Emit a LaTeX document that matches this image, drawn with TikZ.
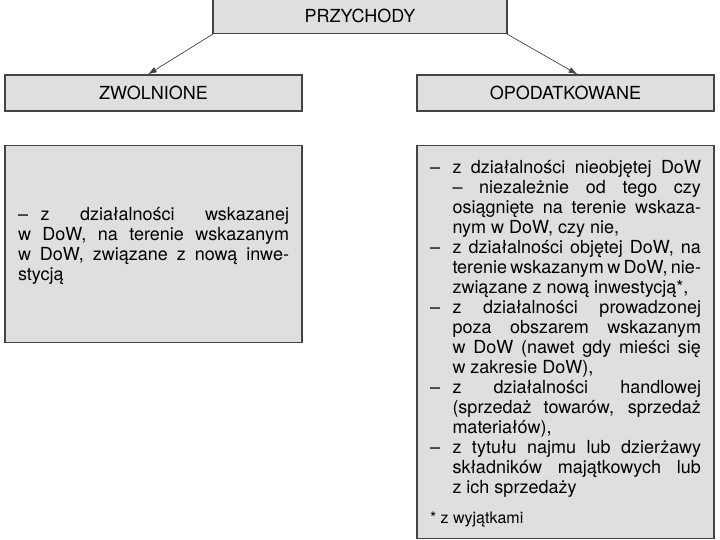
\documentclass[tikz,border=0pt]{standalone}
\usepackage{fontspec}
\setmainfont{TeX Gyre Heros}
\usepackage{tikz}
\usetikzlibrary{arrows.meta}

\definecolor{boxfill}{RGB}{223,223,223}
\definecolor{boxline}{RGB}{68,68,68}

% loose justified lines, no automatic hyphens
\newcommand{\luzno}{\tolerance=10000 \hbadness=10000 \hyphenpenalty=10000 \relax}
% one list entry: dash in the hanging column
\newcommand{\pozycja}{\hangindent=22.5pt\hangafter=1\noindent\makebox[22.5pt][l]{–}}

\begin{document}
\begin{tikzpicture}[x=1pt,y=-1pt,
  box/.style={draw=boxline,line width=1.1pt,fill=boxfill,minimum width=297pt,inner sep=0pt,
    font=\fontsize{18}{20}\selectfont},
  listbox/.style={box,anchor=north,inner xsep=13pt,text width=271pt,align=justify,
    execute at begin node=\luzno},
  arrow/.style={draw=boxline,line width=0.7pt,-{Latex[length=9pt,width=6pt]}}]
  \useasboundingbox (0,0) rectangle (720,540);
  % top and second level
  \node[box,minimum width=294pt,minimum height=35pt] (przychody) at (360,16) {PRZYCHODY};
  \node[box,minimum height=36pt] (zwolnione) at (153.5,93) {ZWOLNIONE};
  \node[box,minimum height=36pt] (opodatkowane) at (565.5,93) {OPODATKOWANE};
  \draw[arrow] (przychody.187) -- (zwolnione.107);
  \draw[arrow] (przychody.-7) -- (opodatkowane.57);
  % lists: first baseline fixed by text height
  \node[listbox,text height=75pt,text depth=122pt] (wskazane) at (153.5,145) {%
    \pozycja z działalności wskazanej\linebreak w DoW, na terenie wskazanym\linebreak
    w DoW, związane z nową inwe-\linebreak stycją};
  \node[listbox,text height=28pt,text depth=365pt] (opisy) at (565.5,145) {%
    \pozycja z działalności nieobjętej DoW\linebreak – niezależnie od tego czy\linebreak
    osiągnięte na terenie wskaza-\linebreak nym w DoW, czy nie,\par
    \pozycja z działalności objętej DoW, na\linebreak terenie wskazanym w DoW, nie-\linebreak
    związane z nową inwestycją*,\par
    \pozycja z działalności prowadzonej\linebreak poza obszarem wskazanym\linebreak
    w DoW (nawet gdy mieści się\linebreak w zakresie DoW),\par
    \pozycja z działalności handlowej\linebreak (sprzedaż towarów, sprzedaż\linebreak materiałów),\par
    \pozycja z tytułu najmu lub dzierżawy\linebreak składników majątkowych lub\linebreak
    z ich sprzedaży\par
    \vskip 10pt\noindent{\fontsize{16}{20}\selectfont * z wyjątkami}};
\end{tikzpicture}
\end{document}
